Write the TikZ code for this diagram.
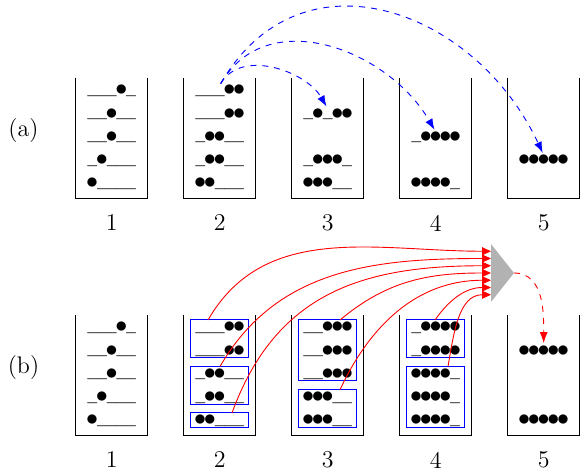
\documentclass[tikz,border=0pt]{standalone}
\usetikzlibrary{arrows.meta,calc}
\newlength\ulen
\newcommand\bx{\makebox[4.87pt]{\scalebox{1.2}{$\bullet$}}}
\newcommand\ux{\makebox[4.87pt]{\smash{\raisebox{1.85pt}{\scalebox{\usc}[1.5]{\_}}}}}
\begin{document}
\settowidth\ulen{\_}%
\pgfmathsetmacro\usc{4.95/\ulen}%
\begin{tikzpicture}[x=0.5pt,y=-0.5pt,
  binwall/.style={line width=0.6pt},
  seq/.style={inner sep=0pt,outer sep=0pt,anchor=base},
  lab/.style={font=\large,inner sep=0pt,outer sep=0pt},
  bluebox/.style={draw=blue,line width=0.5pt,minimum width=28.75pt,inner sep=0pt,outer sep=0pt},
  move/.style={blue,dashed,line width=0.45pt,shorten <=1pt,shorten >=1.2pt,-{Latex[length=5.5pt,width=4pt]}},
  feed/.style={red,line width=0.45pt,-{Triangle[length=4.5pt,width=4pt]}},
  out2/.style={red,dashed,line width=0.45pt,shorten >=1.2pt,-{Latex[length=5.5pt,width=4pt]}}]
\useasboundingbox (0,0) rectangle (580,470);
% bins
\foreach \c in {111.7,219.7,327.7,435.7,543.7}{
  \draw[binwall] (\c-36,78) -- (\c-36,198.5) -- (\c+36,198.5) -- (\c+36,78);
  \draw[binwall] (\c-36,315) -- (\c-36,435.5) -- (\c+36,435.5) -- (\c+36,315);
}
% labels
\node[lab] (la) at (23.5,130.5) {(a)};
\node[lab] (lb) at (23.5,367.5) {(b)};
\node[lab] (n1a) at (111.7,223) {1};
\node[lab] (n2a) at (219.7,223) {2};
\node[lab] (n3a) at (327.7,223) {3};
\node[lab] (n4a) at (435.7,223) {4};
\node[lab] (n5a) at (543.7,223) {5};
\node[lab] (n1b) at (111.7,460) {1};
\node[lab] (n2b) at (219.7,460) {2};
\node[lab] (n3b) at (327.7,460) {3};
\node[lab] (n4b) at (435.7,460) {4};
\node[lab] (n5b) at (543.7,460) {5};
% (a) contents
\node[seq] (a11) at (111.7,96) {\ux\ux\ux\bx\ux};
\node[seq] (a12) at (111.7,119.25) {\ux\ux\bx\ux\ux};
\node[seq] (a13) at (111.7,142.5) {\ux\ux\bx\ux\ux};
\node[seq] (a14) at (111.7,165.75) {\ux\bx\ux\ux\ux};
\node[seq] (a15) at (111.7,189) {\bx\ux\ux\ux\ux};
\node[seq] (a21) at (219.7,96) {\ux\ux\ux\bx\bx};
\node[seq] (a22) at (219.7,119.25) {\ux\ux\ux\bx\bx};
\node[seq] (a23) at (219.7,142.5) {\ux\bx\bx\ux\ux};
\node[seq] (a24) at (219.7,165.75) {\ux\bx\bx\ux\ux};
\node[seq] (a25) at (219.7,189) {\bx\bx\ux\ux\ux};
\node[seq] (a32) at (327.7,119.25) {\ux\bx\ux\bx\bx};
\node[seq] (a34) at (327.7,165.75) {\ux\bx\bx\bx\ux};
\node[seq] (a35) at (327.7,189) {\bx\bx\bx\ux\ux};
\node[seq] (a43) at (435.7,142.5) {\ux\bx\bx\bx\bx};
\node[seq] (a45) at (435.7,189) {\bx\bx\bx\bx\ux};
\node[seq] (a54) at (543.7,165.75) {\bx\bx\bx\bx\bx};
% (b) contents
\node[seq] (b11) at (111.7,333) {\ux\ux\ux\bx\ux};
\node[seq] (b12) at (111.7,356.25) {\ux\ux\bx\ux\ux};
\node[seq] (b13) at (111.7,379.5) {\ux\ux\bx\ux\ux};
\node[seq] (b14) at (111.7,402.75) {\ux\bx\ux\ux\ux};
\node[seq] (b15) at (111.7,426) {\bx\ux\ux\ux\ux};
\node[seq] (b21) at (219.7,333) {\ux\ux\ux\bx\bx};
\node[seq] (b22) at (219.7,356.25) {\ux\ux\ux\bx\bx};
\node[seq] (b23) at (219.7,379.5) {\ux\bx\bx\ux\ux};
\node[seq] (b24) at (219.7,402.75) {\ux\bx\bx\ux\ux};
\node[seq] (b25) at (219.7,426) {\bx\bx\ux\ux\ux};
\node[seq] (b31) at (327.7,333) {\ux\ux\bx\bx\bx};
\node[seq] (b32) at (327.7,356.25) {\ux\ux\bx\bx\bx};
\node[seq] (b33) at (327.7,379.5) {\ux\ux\bx\bx\bx};
\node[seq] (b34) at (327.7,402.75) {\bx\bx\bx\ux\ux};
\node[seq] (b35) at (327.7,426) {\bx\bx\bx\ux\ux};
\node[seq] (b41) at (435.7,333) {\ux\bx\bx\bx\bx};
\node[seq] (b42) at (435.7,356.25) {\ux\bx\bx\bx\bx};
\node[seq] (b43) at (435.7,379.5) {\bx\bx\bx\bx\ux};
\node[seq] (b44) at (435.7,402.75) {\bx\bx\bx\bx\ux};
\node[seq] (b45) at (435.7,426) {\bx\bx\bx\bx\ux};
\node[seq] (b52) at (543.7,356.25) {\bx\bx\bx\bx\bx};
\node[seq] (b55) at (543.7,426) {\bx\bx\bx\bx\bx};
% blue group boxes
\node[bluebox,minimum height=18.875pt] (B21) at (219.7,338.875) {};
\node[bluebox,minimum height=18.875pt] (B22) at (219.7,385.375) {};
\node[bluebox,minimum height=7.25pt] (B23) at (219.7,420.25) {};
\node[bluebox,minimum height=30.5pt] (B31) at (327.7,350.5) {};
\node[bluebox,minimum height=18.875pt] (B32) at (327.7,408.625) {};
\node[bluebox,minimum height=18.875pt] (B41) at (435.7,338.875) {};
\node[bluebox,minimum height=30.5pt] (B42) at (435.7,397) {};
% merge triangle
\coordinate (tu) at (491,244);
\coordinate (td) at (491,302);
\coordinate (tp) at (514,273);
\fill[black!30] (tu) -- (tp) -- (td) -- cycle;
\foreach \i in {1,...,7}{\coordinate (e\i) at ($(tu)!\i/8!(td)$);}
\coordinate (s1) at ($(B21.north)+(-11.7,0)$);
\coordinate (s2) at ($(B22.north)+(0.3,0)$);
\coordinate (s3) at ($(B23.north)+(12.3,0)$);
\coordinate (s4) at ($(B31.north)+(12.3,0)$);
\coordinate (s5) at ($(B32.north)+(12.3,0)$);
\coordinate (s6) at ($(B41.north)+(-0.7,0)$);
\coordinate (s7) at ($(B42.north)+(12.3,0)$);
\draw[feed] (s1) to[out=60,in=180] (e1);
\draw[feed] (s2) to[out=60,in=180] (e2);
\draw[feed] (s3) to[out=70,in=180,looseness=1.1] (e3);
\draw[feed] (s4) to[out=40,in=180] (e4);
\draw[feed] (s5) to[out=65,in=180] (e5);
\draw[feed] (s6) to[out=55,in=180] (e6);
\draw[feed] (s7) to[out=80,in=180] (e7);
\draw[out2] (tp) to[out=0,in=90] (b52.north);
% (a) moves
\draw[move] (a21.north) to[out=60,in=120] (a32.north);
\draw[move] (a21.north) to[out=60,in=120,looseness=1.1] (a43.north);
\draw[move] (a21.north) to[out=60,in=115,looseness=1.25] (a54.north);
\end{tikzpicture}
\end{document}
